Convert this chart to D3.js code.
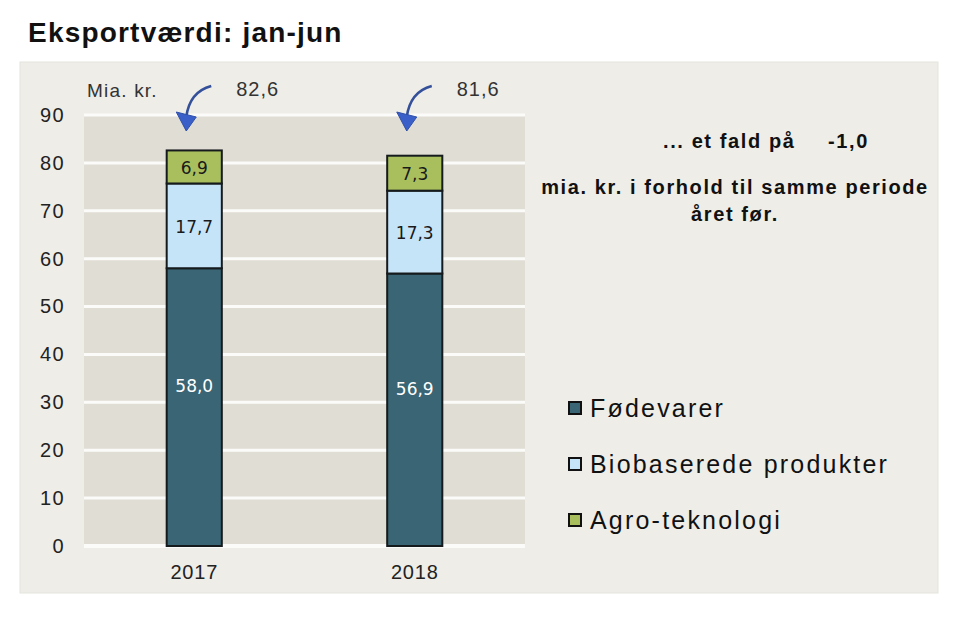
<!DOCTYPE html>
<html><head><meta charset="utf-8">
<script src="https://cdn.jsdelivr.net/npm/d3@7"></script>
<style>body{margin:0;background:#fff;}svg{display:block;font-family:"Liberation Sans",Arial,sans-serif;}</style>
</head><body>
<svg id="c" width="960" height="621"></svg>
<script>
const years = ["2017", "2018"];
const seriesNames = ["Fødevarer", "Biobaserede produkter", "Agro-teknologi"];
const fodevarer = [58.0, 56.9];
const biobaserede = [17.7, 17.3];
const agro = [6.9, 7.3];
const totals = [82.6, 81.6];
const yTicks = [0, 10, 20, 30, 40, 50, 60, 70, 80, 90];
const colors = ["#3a6574", "#c6e4f8", "#a9bf5d"];
const labelColors = ["#ffffff", "#1a1a1a", "#1a1a1a"];
const fmt = v => d3.format(".1f")(v).replace(".", ",").replace("\u2212", "-");

const svg = d3.select("#c");
svg.append("text").attr("x", 28).attr("y", 42).attr("font-size", 28).attr("font-weight", "bold")
  .attr("letter-spacing", 1.2).attr("fill", "#111").text("Eksportværdi: jan-jun");
svg.append("rect").attr("x", 20).attr("y", 62).attr("width", 918).attr("height", 531).attr("fill", "#eeede8").attr("stroke", "#e4e3de");

const pL = 84, pR = 525, pT = 115, pB = 546;
const y = d3.scaleLinear().domain([0, 90]).range([pB, pT]);
const x = d3.scaleBand().domain(years).range([pL, pR]).paddingInner(0.75).paddingOuter(0.375);

svg.append("rect").attr("x", pL).attr("y", pT).attr("width", pR - pL).attr("height", pB - pT).attr("fill", "#e0ddd5");
svg.append("g").selectAll("line").data(yTicks).join("line")
  .attr("x1", pL).attr("x2", pR).attr("y1", d => y(d)).attr("y2", d => y(d))
  .attr("stroke", "#fbfbf9").attr("stroke-width", d => d === 0 ? 4 : 3);

const yAxis = svg.append("g").attr("transform", `translate(${pL - 19},0)`)
  .call(d3.axisLeft(y).tickValues(yTicks).tickSize(0).tickPadding(0));
yAxis.select(".domain").remove();
yAxis.selectAll("text").attr("font-size", 20).attr("letter-spacing", 1.4).attr("fill", "#222").attr("font-family", "Liberation Sans, Arial, sans-serif");

const xAxis = svg.append("g").attr("transform", `translate(0,${pB + 15})`)
  .call(d3.axisBottom(x).tickSize(0).tickPadding(0));
xAxis.select(".domain").remove();
xAxis.selectAll("text").attr("font-size", 20).attr("letter-spacing", 0.8).attr("fill", "#222").attr("dy", "0.9em").attr("font-family", "Liberation Sans, Arial, sans-serif");

const table = years.map((yr, i) => ({year: yr, s0: fodevarer[i], s1: biobaserede[i], s2: agro[i]}));
const stack = d3.stack().keys(["s0", "s1", "s2"])(table);
const g = svg.append("g");
stack.forEach((layer, k) => {
  g.selectAll(null).data(layer).join("rect")
    .attr("x", d => x(d.data.year)).attr("width", x.bandwidth())
    .attr("y", d => y(d[1])).attr("height", d => y(d[0]) - y(d[1]))
    .attr("fill", colors[k]).attr("stroke", "#151a1c").attr("stroke-width", 2);
  g.selectAll(null).data(layer).join("text")
    .attr("x", d => x(d.data.year) + x.bandwidth() / 2)
    .attr("y", d => y((d[0] + d[1]) / 2) + (k === 0 ? -21 : 1))
    .attr("dy", "0.35em").attr("text-anchor", "middle").attr("font-size", 17)
    .attr("font-family", "DejaVu Sans, sans-serif")
    .attr("fill", labelColors[k]).text(d => fmt(d[1] - d[0]));
});

svg.append("text").attr("x", 87).attr("y", 97).attr("font-size", 19).attr("letter-spacing", 1.2).attr("fill", "#333").text("Mia. kr.");

years.forEach((yr, i) => {
  const cx = x(yr) + x.bandwidth() / 2;
  const tipX = cx - 8, tipY = 131;
  svg.append("path")
    .attr("d", `M${cx + 17},${86} C${cx + 2},${90} ${cx - 6},${102} ${tipX},${tipY - 14}`)
    .attr("fill", "none").attr("stroke", "#34509a").attr("stroke-width", 2.5);
  svg.append("path")
    .attr("d", `M${tipX - 10},${tipY - 19} L${tipX + 10},${tipY - 14} L${tipX},${tipY} Z`)
    .attr("fill", "#3a5fc8").attr("stroke", "#3050a8").attr("stroke-width", 1);
  svg.append("text").attr("x", cx + 42).attr("y", 96).attr("font-size", 20).attr("letter-spacing", 1).attr("fill", "#333").text(fmt(totals[i]));
});

const change = totals[1] - totals[0];
const bold = (xx, yy, anchor, t) => svg.append("text").attr("x", xx).attr("y", yy).attr("text-anchor", anchor)
  .attr("font-size", 20).attr("font-weight", "bold").attr("letter-spacing", 1.6).attr("fill", "#111").text(t);
bold(663, 148, "start", "... et fald på");
bold(828, 148, "start", fmt(change));
bold(735, 194, "middle", "mia. kr. i forhold til samme periode");
bold(735, 221, "middle", "året før.");

const legend = svg.append("g");
seriesNames.forEach((name, k) => {
  const cy = 408 + k * 56;
  legend.append("rect").attr("x", 569).attr("y", cy - 6).attr("width", 12).attr("height", 12)
    .attr("fill", colors[k]).attr("stroke", "#111").attr("stroke-width", 2);
  legend.append("text").attr("x", 590).attr("y", cy).attr("dy", "0.35em").attr("font-size", 25)
    .attr("letter-spacing", 2.2).attr("fill", "#111").text(name);
});
</script>
</body></html>
